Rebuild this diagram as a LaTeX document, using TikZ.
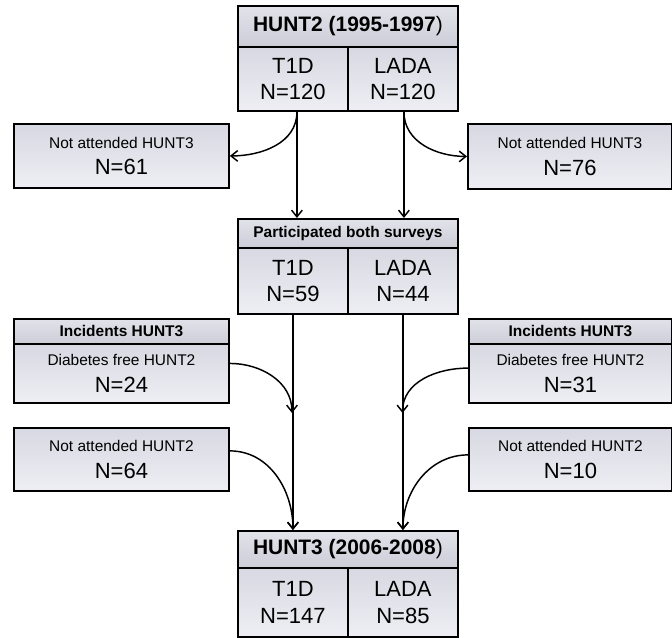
\documentclass[tikz,border=0pt]{standalone}
\usepackage{fontspec}
\setmainfont{Liberation Sans}
\usetikzlibrary{arrows.meta,calc,shadings}
\definecolor{bodytop}{HTML}{D8D8E2}
\definecolor{bodybot}{HTML}{EEEEF4}
\definecolor{titletop}{HTML}{E2E2EA}
\definecolor{titlebot}{HTML}{CDCDD8}
\newcommand\fsmall{\fontsize{11.6}{14}\selectfont}
\newcommand\fbig{\fontsize{16.5}{20}\selectfont}
\newcommand\ftitle{\fontsize{15.7}{19}\selectfont\bfseries}
\begin{document}
\begin{tikzpicture}[x=0.75pt,y=-0.75pt,
 box/.style={draw=black, line width=1.4pt, top color=bodytop, bottom color=bodybot, inner sep=0pt, anchor=north west, align=center, font=\fbig},
 titlebox/.style={box, top color=titletop, bottom color=titlebot, font=\ftitle},
 smalltitle/.style={box, top color=titletop, bottom color=titlebot, font=\fsmall\bfseries},
 arr/.style={line width=1.1pt, -{Straight Barb[length=5pt,width=8pt]}}]
\useasboundingbox (0,0) rectangle (672,638);
% top
\node[titlebox, minimum width=165pt, minimum height=30.75pt] (h2t) at (237,5) {HUNT2 (1995-1997\textmd{)}};
\node[box, minimum width=82.5pt, minimum height=48pt] (h2a) at (237,46) {T1D\\N=120};
\node[box, minimum width=82.5pt, minimum height=48pt] (h2b) at (347,46) {LADA\\N=120};
% side boxes top
\node[box, minimum width=161.25pt, minimum height=48pt] (na3l) at (13,123) {{\fsmall Not attended HUNT3}\\N=61};
\node[box, minimum width=153pt, minimum height=48.75pt] (na3r) at (467,123) {{\fsmall Not attended HUNT3}\\N=76};
% middle
\node[smalltitle, minimum width=165pt, minimum height=21.75pt] (pt) at (237,218) {Participated both surveys};
\node[box, minimum width=82.5pt, minimum height=49.5pt] (pa) at (237,247) {T1D\\N=59};
\node[box, minimum width=82.5pt, minimum height=49.5pt] (pb) at (347,247) {LADA\\N=44};
% incidents
\node[smalltitle, minimum width=161.25pt, minimum height=18.75pt] (itl) at (13,318) {Incidents HUNT3};
\node[box, minimum width=161.25pt, minimum height=44.25pt] (incl) at (13,343) {{\fsmall Diabetes free HUNT2}\\N=24};
\node[smalltitle, minimum width=152.25pt, minimum height=18.75pt] (itr) at (468,318) {Incidents HUNT3};
\node[box, minimum width=152.25pt, minimum height=44.25pt] (incr) at (468,343) {{\fsmall Diabetes free HUNT2}\\N=31};
% not attended HUNT2
\node[box, minimum width=161.25pt, minimum height=47.25pt] (na2l) at (13,427) {{\fsmall Not attended HUNT2}\\N=64};
\node[box, minimum width=152.25pt, minimum height=47.25pt] (na2r) at (468,427) {{\fsmall Not attended HUNT2}\\N=10};
% bottom
\node[titlebox, minimum width=165pt, minimum height=27.75pt] (h3t) at (237,530) {HUNT3 (2006-2008\textmd{)}};
\node[box, minimum width=82.5pt, minimum height=51.75pt] (ba) at (237,567) {T1D\\N=147};
\node[box, minimum width=82.5pt, minimum height=51.75pt] (bb) at (347,567) {LADA\\N=85};
% connectors
\draw[arr] ([xshift=3pt]h2a.south) -- ([xshift=3pt]h2a.south |- pt.north);
\draw[arr] ([xshift=0.75pt]h2b.south) -- ([xshift=0.75pt]h2b.south |- pt.north);
\draw[arr] ([xshift=3pt]h2a.south) to[out=-90,in=0] (na3l.east);
\draw[arr] ([xshift=0.75pt]h2b.south) to[out=-90,in=180] (na3r.west);
\draw[arr] (pa.south) -- (pa.south |- h3t.north);
\draw[arr] (pb.south) -- (pb.south |- h3t.north);
\coordinate (jl) at (292,413);
\coordinate (jr) at (402.5,413);
\draw[arr] ([yshift=7.5pt]incl.east) to[out=0,in=90] (jl);
\draw[arr] ([yshift=6.4pt]na2l.east) to[out=0,in=90] (pa.south |- h3t.north);
\draw[arr] ([yshift=4pt]incr.west) to[out=180,in=90] (jr);
\draw[arr] ([yshift=3.4pt]na2r.west) to[out=180,in=90] (pb.south |- h3t.north);
\end{tikzpicture}
\end{document}
